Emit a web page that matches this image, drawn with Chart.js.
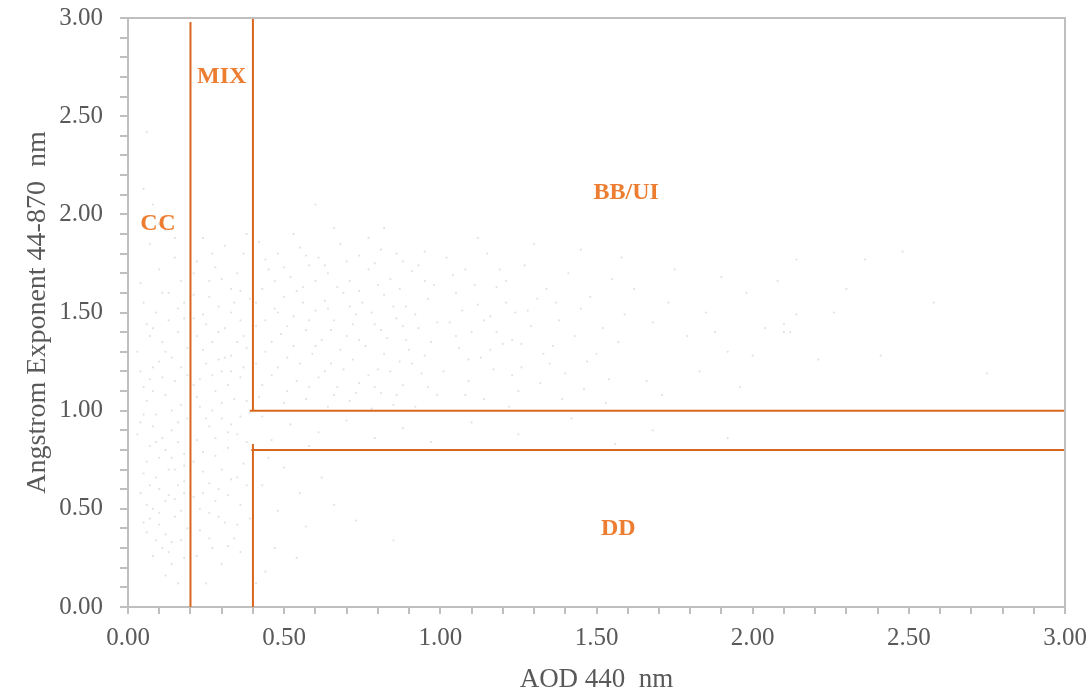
<!DOCTYPE html>
<html>
<head>
<meta charset="utf-8">
<script src="https://cdn.jsdelivr.net/npm/chart.js@4.4.1/dist/chart.umd.min.js"></script>
<style>
  html, body { margin: 0; padding: 0; background: #ffffff; }
  #wrap { width: 1092px; height: 691px; }
</style>
</head>
<body>
<div id="wrap"><canvas id="aeChart" width="1092" height="691"></canvas></div>
<script>
// [AOD 440, Angstrom exponent], grouped by region
const ccPoints = [
  [0.06,2.42],[0.05,2.13],[0.08,2.05],[0.12,1.92],[0.07,1.85],[0.15,1.78],[0.10,1.72],[0.04,1.65],
  [0.13,1.60],[0.18,1.55],[0.09,1.50],[0.06,1.44],[0.16,1.40],[0.11,1.35],[0.03,1.30],[0.14,1.27],
  [0.08,1.22],[0.19,1.18],[0.05,1.12],[0.12,1.08],[0.17,1.03],[0.09,0.98],[0.04,0.94],[0.14,0.90],
  [0.11,0.86],[0.07,0.82],[0.18,0.78],[0.06,0.74],[0.13,0.70],[0.09,0.66],[0.16,0.62],[0.04,0.58],
  [0.12,0.54],[0.08,0.50],[0.15,0.46],[0.10,0.42],[0.06,0.38],[0.17,0.34],[0.11,0.30],[0.08,0.26],
  [0.14,0.22],[0.12,0.16],[0.10,1.95],[0.15,1.88],[0.05,1.55],[0.17,1.66],[0.13,1.46],[0.07,1.38],
  [0.19,1.32],[0.10,1.25],[0.15,1.15],[0.06,1.05],[0.19,0.96],[0.08,0.92],[0.16,0.84],[0.10,0.76],
  [0.05,0.68],[0.18,0.64],[0.13,0.57],[0.07,0.45],[0.19,0.40],[0.14,0.33],[0.18,0.25],[0.16,0.12],
  [0.04,1.20],[0.11,1.17],[0.17,1.22],[0.08,1.10],[0.14,1.00],[0.03,0.88],[0.12,0.80],[0.18,0.72],
  [0.07,0.62],[0.15,0.55],[0.10,0.48],[0.05,0.43],[0.17,0.49],[0.12,0.37],[0.09,0.34],[0.13,0.28],
  [0.11,1.60],[0.16,1.52],[0.08,1.42],[0.18,1.47],[0.12,1.30],[0.05,0.98],[0.16,0.94],[0.09,0.84],
  [0.14,0.76],[0.06,0.52],[0.18,0.58],[0.10,0.60],[0.15,0.70],[0.07,1.16]
];
const mixPoints = [
  [0.24,1.88],[0.31,1.84],[0.37,1.80],[0.22,1.76],[0.28,1.73],[0.35,1.70],[0.26,1.66],[0.33,1.62],
  [0.21,1.59],[0.39,1.57],[0.29,1.53],[0.24,1.49],[0.36,1.46],[0.31,1.42],[0.22,1.38],[0.27,1.35],
  [0.38,1.32],[0.33,1.28],[0.25,1.24],[0.30,1.20],[0.36,1.17],[0.21,1.13],[0.28,1.10],[0.34,1.06],
  [0.23,1.02],[0.39,0.99],[0.30,0.96],[0.26,0.92],[0.35,0.88],[0.22,0.85],[0.32,0.81],[0.28,0.77],
  [0.37,0.73],[0.24,0.69],[0.33,0.65],[0.29,0.60],[0.21,0.56],[0.36,0.52],[0.26,0.48],[0.31,0.43],
  [0.23,0.39],[0.34,0.35],[0.27,0.30],[0.22,0.26],[0.30,0.22],[0.25,0.12],[0.38,1.90],[0.27,1.80],
  [0.34,1.55],[0.25,1.44],[0.37,1.38],[0.29,1.26],[0.23,1.16],[0.32,1.13],[0.38,1.05],[0.27,1.00],
  [0.33,0.93],[0.24,0.79],[0.38,0.62],[0.28,0.54],[0.39,0.45],[0.36,0.28],[0.24,0.58],
  [0.21,1.70],[0.30,1.67],[0.36,1.61],[0.26,1.58],[0.33,1.50],[0.21,1.47],[0.29,1.40],[0.35,1.35],
  [0.24,1.31],[0.31,1.27],[0.37,1.22],[0.27,1.18],[0.33,1.20],[0.22,1.07],[0.30,1.04],[0.36,0.97],
  [0.25,0.96],[0.32,0.89],[0.38,0.84],[0.28,0.86],[0.21,0.74],[0.30,0.70],[0.35,0.66],[0.26,0.63],
  [0.32,0.57],[0.23,0.50],[0.29,0.46],[0.35,0.42],[0.26,0.35],[0.32,0.31]
];
const bbPoints = [
  [0.42,1.86],[0.48,1.80],[0.55,1.83],[0.61,1.78],[0.68,1.85],[0.74,1.79],[0.81,1.82],[0.88,1.76],
  [0.95,1.81],[0.45,1.72],[0.52,1.68],[0.58,1.74],[0.64,1.70],[0.71,1.66],[0.77,1.72],[0.84,1.67],
  [0.91,1.71],[0.98,1.64],[0.43,1.62],[0.50,1.58],[0.56,1.63],[0.63,1.56],[0.69,1.60],[0.75,1.55],
  [0.82,1.59],[0.89,1.53],[0.96,1.57],[0.47,1.52],[0.53,1.48],[0.60,1.51],[0.66,1.46],[0.73,1.49],
  [0.79,1.44],[0.86,1.47],[0.93,1.42],[0.41,1.43],[0.49,1.39],[0.57,1.41],[0.62,1.36],[0.70,1.38],
  [0.76,1.33],[0.83,1.37],[0.90,1.31],[0.97,1.35],[0.44,1.30],[0.51,1.27],[0.59,1.29],[0.65,1.24],
  [0.72,1.26],[0.80,1.21],[0.87,1.25],[0.94,1.19],[0.46,1.18],[0.54,1.15],[0.61,1.17],[0.67,1.12],
  [0.74,1.14],[0.81,1.09],[0.88,1.13],[0.99,1.08],[0.42,1.07],[0.50,1.04],[0.57,1.06],[0.64,1.02],
  [0.71,1.05],[0.78,1.01],[0.85,1.03],[0.92,1.02],[0.53,1.90],[0.66,1.93],[0.77,1.88],[0.60,2.05],
  [0.82,1.93],
  [0.44,1.77],[0.50,1.73],[0.57,1.79],[0.63,1.74],[0.70,1.76],[0.79,1.75],[0.86,1.80],[0.93,1.74],
  [0.47,1.66],[0.54,1.61],[0.60,1.66],[0.67,1.63],[0.74,1.61],[0.80,1.64],[0.87,1.62],[0.95,1.66],
  [0.41,1.55],[0.48,1.50],[0.56,1.55],[0.64,1.52],[0.71,1.53],[0.78,1.50],[0.85,1.53],[0.92,1.49],
  [0.44,1.46],[0.51,1.43],[0.58,1.46],[0.65,1.41],[0.72,1.44],[0.81,1.41],[0.88,1.43],[0.99,1.45],
  [0.46,1.35],[0.53,1.33],[0.60,1.33],[0.68,1.31],[0.74,1.36],[0.82,1.29],[0.89,1.36],[0.95,1.28],
  [0.41,1.24],[0.48,1.22],[0.55,1.24],[0.63,1.20],[0.69,1.21],[0.77,1.18],[0.84,1.20],[0.91,1.24],
  [0.43,1.13],[0.51,1.10],[0.58,1.12],[0.66,1.08],[0.73,1.09],[0.79,1.12],[0.86,1.08],[0.96,1.12],
  [1.02,1.78],[1.08,1.72],[1.15,1.80],[1.21,1.66],[1.27,1.74],[1.34,1.62],[1.41,1.70],[1.48,1.58],
  [1.55,1.67],[1.05,1.60],[1.12,1.54],[1.18,1.63],[1.24,1.50],[1.31,1.57],[1.38,1.46],[1.45,1.52],
  [1.52,1.42],[1.59,1.49],[1.03,1.45],[1.10,1.40],[1.16,1.48],[1.23,1.36],[1.29,1.43],[1.36,1.33],
  [1.43,1.38],[1.50,1.29],[1.57,1.35],[1.06,1.32],[1.13,1.27],[1.20,1.34],[1.26,1.22],[1.33,1.29],
  [1.40,1.19],[1.47,1.25],[1.54,1.16],[1.01,1.20],[1.09,1.15],[1.17,1.21],[1.25,1.10],[1.32,1.14],
  [1.39,1.06],[1.46,1.11],[1.53,1.04],[1.14,1.06],[1.22,1.02],[1.30,1.85],[1.12,1.88],[1.45,1.82],
  [1.58,1.78],
  [1.04,1.69],[1.11,1.64],[1.19,1.72],[1.07,1.51],[1.14,1.46],[1.21,1.55],[1.28,1.51],[1.05,1.38],
  [1.18,1.40],[1.26,1.34],[1.09,1.26],[1.16,1.31],[1.23,1.18],[1.35,1.24],[1.08,1.08],[1.37,1.55]
];
const sparsePoints = [
  [1.62,1.62],[1.68,1.45],[1.73,1.55],[1.79,1.38],[1.85,1.50],[1.92,1.30],[1.98,1.60],[2.04,1.42],
  [1.66,1.15],[1.75,1.72],[1.83,1.20],[1.90,1.68],[1.96,1.12],[2.08,1.66],[1.71,1.08],[1.88,1.40],
  [2.00,1.28],[2.14,1.77],[2.36,1.77],[2.48,1.81],[2.14,1.49],[2.26,1.50],[2.10,1.44],[2.10,1.40],
  [2.12,1.40],[2.21,1.26],[2.41,1.28],[2.75,1.19],[2.30,1.62],[2.58,1.55]
];
const ddPoints = [
  [0.43,0.97],[0.52,0.93],[0.61,0.89],[0.70,0.95],[0.79,0.86],[0.88,0.91],[0.97,0.84],[1.10,0.94],
  [1.25,0.88],[1.42,0.96],[1.56,0.83],[0.46,0.85],[0.58,0.82],[1.68,0.90],[1.92,0.86],
  [0.45,0.76],[0.50,0.71],[0.43,0.62],[0.55,0.58],[0.48,0.49],[0.62,0.66],[0.57,0.41],[0.47,0.30],
  [0.66,0.52],[0.73,0.44],[0.85,0.34],[0.54,0.25],[0.44,0.18],[0.41,0.12]
];

// class boundaries (AOD, AE) end points
const boundaryLines = [
  [[0.2, 0], [0.2, 2.98]],
  [[0.4, 1.0], [0.4, 3.0]],
  [[0.39, 1.0], [3.0, 1.0]],
  [[0.4, 0], [0.4, 0.83]],
  [[0.395, 0.8], [3.0, 0.8]]
];

const regionNames = ['CC', 'MIX', 'BB/UI', 'DD'];
const regionAod = [0.096, 0.30, 1.595, 1.57];
const regionAe = [1.95, 2.70, 2.11, 0.40];

const axisGray = '#bfbfbf';
const textGray = '#595959';
const lineOrange = '#d9661f';
const labelOrange = '#ed7d31';
const serif = "'Liberation Serif', 'Times New Roman', serif";

const toXY = arr => arr.map(p => ({ x: p[0], y: p[1] }));

const pointSets = [ccPoints, mixPoints, bbPoints, sparsePoints, ddPoints].map(set => ({
  type: 'scatter',
  data: toXY(set),
  backgroundColor: '#e2e2e2',
  borderWidth: 0,
  pointRadius: 1.1,
  order: 2
}));

const lineSets = boundaryLines.map(seg => ({
  type: 'line',
  data: toXY(seg),
  borderColor: lineOrange,
  borderWidth: 2,
  pointRadius: 0,
  fill: false,
  order: 1
}));

// box round the plot area and the class names
const frameAndLabels = {
  id: 'frameAndLabels',
  afterDatasetsDraw(chart) {
    const { ctx, chartArea, scales } = chart;
    ctx.save();
    ctx.strokeStyle = axisGray;
    ctx.lineWidth = 2;
    ctx.beginPath();
    ctx.moveTo(chartArea.left, chartArea.top);
    ctx.lineTo(chartArea.right, chartArea.top);
    ctx.lineTo(chartArea.right, chartArea.bottom);
    ctx.stroke();

    ctx.fillStyle = labelOrange;
    ctx.font = "bold 24px " + serif;
    ctx.textAlign = 'center';
    ctx.textBaseline = 'middle';
    regionNames.forEach((name, i) => {
      const px = scales.x.getPixelForValue(regionAod[i]);
      const py = scales.y.getPixelForValue(regionAe[i]);
      if (name === 'CC') {
        ctx.fillText('C', px - 9, py);
        ctx.fillText('C', px + 9, py);
      } else {
        ctx.fillText(name, px, py);
      }
    });
    ctx.restore();
  }
};

const fmtTick = v => {
  const tenth = Math.round(v * 10);
  return tenth % 5 === 0 ? (tenth / 10).toFixed(2) : '';
};

new Chart(document.getElementById('aeChart').getContext('2d'), {
  data: { datasets: [...lineSets, ...pointSets] },
  options: {
    responsive: false,
    animation: false,
    layout: { padding: { top: 18, right: 27, left: 0, bottom: 0 } },
    plugins: { legend: { display: false }, tooltip: { enabled: false } },
    scales: {
      x: {
        type: 'linear',
        min: 0,
        max: 3,
        afterFit: s => { s.height = 84; s.paddingLeft = 0; s.paddingRight = 0; },
        border: { color: axisGray, width: 2 },
        grid: { drawOnChartArea: false, color: axisGray, tickLength: 7, lineWidth: 2 },
        ticks: {
          stepSize: 0.1,
          autoSkip: false,
          maxRotation: 0,
          padding: 9,
          color: textGray,
          font: { family: serif, size: 25 },
          callback: fmtTick
        },
        title: {
          display: true,
          text: 'AOD 440  nm',
          color: textGray,
          font: { family: serif, size: 27 },
          padding: { top: 0, bottom: -5 }
        }
      },
      y: {
        type: 'linear',
        min: 0,
        max: 3,
        afterFit: s => { s.width = 128; s.paddingTop = 0; s.paddingBottom = 0; },
        border: { color: axisGray, width: 2 },
        grid: { drawOnChartArea: false, color: axisGray, tickLength: 8, lineWidth: 2 },
        ticks: {
          stepSize: 0.1,
          autoSkip: false,
          padding: 17,
          color: textGray,
          font: { family: serif, size: 25 },
          callback: fmtTick
        },
        title: {
          display: true,
          text: 'Angstrom Exponent 44-870  nm',
          color: textGray,
          font: { family: serif, size: 28 },
          padding: { top: 21, bottom: 0 }
        }
      }
    }
  },
  plugins: [frameAndLabels]
});
</script>
</body>
</html>
